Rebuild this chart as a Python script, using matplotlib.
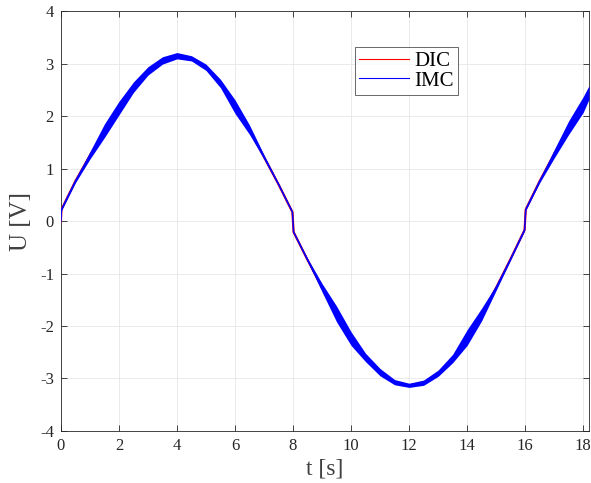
import numpy as np
import matplotlib.pyplot as plt

#---    Data (centre line and noise half width)
t = [0.0, 0.02, 0.5, 1.0, 1.5, 2.0, 2.5, 3.0, 3.5, 4.0, 4.5, 5.0, 5.5, 6.0, 6.5, 7.0, 7.5,
     7.98, 8.02, 8.5, 9.0, 9.5, 10.0, 10.5, 11.0, 11.5, 12.0, 12.5, 13.0, 13.5, 14.0, 14.5,
     15.0, 15.5, 15.98, 16.02, 16.5, 17.0, 17.5, 18.0, 18.2]
u_dic = [0.00, 0.22, 0.76, 1.25, 1.72, 2.15, 2.55, 2.86, 3.06, 3.15, 3.10, 2.93, 2.62, 2.18,
         1.74, 1.22, 0.70, 0.17, -0.21, -0.74, -1.27, -1.77, -2.24, -2.60, -2.88, -3.07,
         -3.13, -3.08, -2.90, -2.62, -2.22, -1.78, -1.27, -0.72, -0.17, 0.22, 0.76, 1.28,
         1.78, 2.22, 2.45]
u_imc = u_dic
imc_noise = [0.02, 0.02, 0.03, 0.07, 0.13, 0.13, 0.10, 0.08, 0.07, 0.06, 0.05, 0.06, 0.08,
             0.13, 0.09, 0.04, 0.02, 0.015, 0.015, 0.03, 0.08, 0.15, 0.13, 0.08, 0.07, 0.05,
             0.04, 0.05, 0.06, 0.08, 0.15, 0.12, 0.05, 0.02, 0.015, 0.015, 0.03, 0.08, 0.13,
             0.15, 0.13]

xticks = [0, 2, 4, 6, 8, 10, 12, 14, 16, 18]
yticks = [-4, -3, -2, -1, 0, 1, 2, 3, 4]

#---    Graph
plt.rcParams['font.family'] = ['Liberation Serif', 'DejaVu Serif']
plt.rcParams['axes.unicode_minus'] = False
fig = plt.figure(figsize=(5.91, 4.83), dpi=100)
ax = fig.add_axes([0.103, 0.1077, 0.8936, 0.8693])

t_a = np.array(t)
imc = np.array(u_imc)
hw = np.array(imc_noise)

ax.plot(t_a, u_dic, color='red', linewidth=1.6, label='DIC', zorder=3)
ax.fill_between(t_a, imc - hw, imc + hw, color='blue', linewidth=0, zorder=4)
ax.plot(t_a, imc, color='blue', linewidth=1.1, label='IMC', zorder=5)

ax.set_xlim(0, 18.2)
ax.set_ylim(-4, 4)
ax.set_xticks(xticks)
ax.set_yticks(yticks)
ax.tick_params(direction='in', top=True, right=True, labelsize=12, length=4,
               color='#262626', labelcolor='#262626', width=0.6, pad=5)
ax.grid(True, color='#e6e6e6', linewidth=0.6)
ax.set_axisbelow(True)
for s in ax.spines.values():
    s.set_color('#262626')
    s.set_linewidth(0.6)

ax.set_xlabel('t [s]', fontsize=17, color='#404040', labelpad=3)
ax.set_ylabel('U [V]', fontsize=18, color='#404040', labelpad=6)

leg = ax.legend(loc='upper left', bbox_to_anchor=(0.557, 0.914), fontsize=15,
                frameon=True, fancybox=False, handlelength=2.4, handletextpad=0.25,
                borderpad=0.2, labelspacing=0.0, borderaxespad=0)
leg.get_frame().set_edgecolor('#262626')
leg.get_frame().set_linewidth(0.6)
for line in leg.get_lines():
    line.set_linewidth(0.8)

fig.savefig('out.png', dpi=100)
